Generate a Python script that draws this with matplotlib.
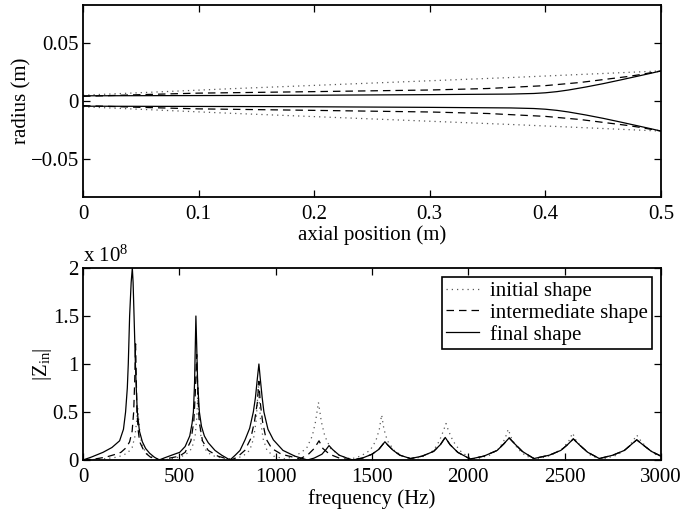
import matplotlib
matplotlib.use("Agg")
import matplotlib.pyplot as plt
import numpy as np

plt.rcParams['font.family'] = ['Liberation Serif', 'DejaVu Serif']
plt.rcParams['mathtext.fontset'] = 'custom'
plt.rcParams['mathtext.rm'] = 'Liberation Serif'
plt.rcParams['mathtext.it'] = 'Liberation Serif:italic'

# ---- Horn profiles (axial position in m, radius in m) ----
x_initial = [0.0, 0.125, 0.25, 0.375, 0.5]
r_initial = [0.005, 0.0105, 0.0155, 0.0205, 0.026]

x_intermediate = [0.0, 0.05, 0.1, 0.2, 0.3, 0.35, 0.4, 0.43, 0.45, 0.47, 0.48, 0.5]
r_intermediate = [0.004, 0.0055, 0.0068, 0.0081, 0.0095, 0.0108, 0.0133, 0.016, 0.0185,
                  0.021, 0.0225, 0.026]

x_final = [0.0, 0.1, 0.2, 0.3, 0.37, 0.39, 0.4, 0.41, 0.42, 0.435, 0.45, 0.465, 0.48, 0.49, 0.5]
r_final = [0.0045, 0.0047, 0.005, 0.0055, 0.006, 0.0065, 0.0071, 0.0081, 0.0095, 0.0121,
           0.015, 0.0182, 0.0215, 0.0237, 0.026]

# ---- Input impedance magnitude (Hz, x 1e8) ----
f_initial = [0, 100, 180, 230, 255, 270, 278, 284, 290, 297, 310, 335, 370, 420,
             480, 530, 565, 582, 591, 597, 603, 612, 630, 665, 720, 780,
             830, 865, 885, 898, 905, 910, 915, 922, 935, 955, 990, 1050,
             1110, 1160, 1190, 1207, 1222, 1237, 1255, 1285, 1330, 1390,
             1440, 1490, 1520, 1538, 1550, 1562, 1580, 1615, 1660, 1710,
             1770, 1820, 1850, 1870, 1884, 1898, 1920, 1955, 2000, 2040,
             2110, 2160, 2190, 2207, 2225, 2255, 2300, 2360,
             2430, 2490, 2522, 2541, 2560, 2595, 2640, 2700,
             2770, 2825, 2855, 2874, 2895, 2930, 2970, 3000]
z_initial = [0, 0.01, 0.03, 0.07, 0.13, 0.25, 0.4, 0.55, 0.4, 0.25, 0.13, 0.06, 0.02, 0.0,
             0.02, 0.05, 0.12, 0.25, 0.45, 0.75, 0.45, 0.25, 0.12, 0.05, 0.02, 0.01,
             0.04, 0.1, 0.22, 0.4, 0.6, 0.8, 0.6, 0.4, 0.22, 0.1, 0.04, 0.01,
             0.05, 0.12, 0.25, 0.4, 0.6, 0.4, 0.25, 0.12, 0.05, 0.01,
             0.04, 0.1, 0.2, 0.32, 0.47, 0.32, 0.2, 0.1, 0.04, 0.01,
             0.04, 0.1, 0.2, 0.3, 0.38, 0.3, 0.2, 0.1, 0.03, 0.01,
             0.05, 0.12, 0.22, 0.32, 0.22, 0.12, 0.04, 0.01,
             0.05, 0.12, 0.2, 0.28, 0.2, 0.12, 0.04, 0.01,
             0.05, 0.12, 0.2, 0.26, 0.2, 0.12, 0.06, 0.04]

f_intermediate = [0, 60, 119, 170, 197, 225, 242, 255, 263, 268, 273, 277, 280, 287, 294,
                  320, 350, 380, 410, 450, 500, 530, 560, 575, 583, 590, 596, 603,
                  620, 650, 700, 770, 800, 840, 870, 890, 905, 913, 920, 932, 950,
                  980, 1030, 1090, 1125, 1170, 1200, 1225, 1245, 1280, 1330, 1395,
                  1450, 1500, 1535, 1555, 1567, 1580, 1610, 1645, 1700,
                  1760, 1820, 1855, 1880, 1905, 1945, 2010,
                  2080, 2150, 2185, 2212, 2240, 2280, 2340,
                  2420, 2480, 2515, 2545, 2575, 2620, 2680,
                  2750, 2810, 2845, 2874, 2905, 2950, 3000]
z_intermediate = [0, 0.01, 0.03, 0.06, 0.08, 0.13, 0.19, 0.3, 0.5, 0.8, 1.21, 0.8, 0.5, 0.3, 0.19,
                  0.08, 0.03, 0.01, 0.0, 0.02, 0.04, 0.08, 0.2, 0.4, 0.7, 1.1, 0.7, 0.4,
                  0.2, 0.1, 0.04, 0.0, 0.03, 0.1, 0.22, 0.4, 0.6, 0.82, 0.6, 0.4, 0.22,
                  0.12, 0.06, 0.03, 0.01, 0.06, 0.12, 0.2, 0.12, 0.06, 0.02, 0.0,
                  0.02, 0.06, 0.11, 0.16, 0.19, 0.16, 0.1, 0.05, 0.015,
                  0.04, 0.09, 0.16, 0.235, 0.16, 0.08, 0.01,
                  0.04, 0.1, 0.17, 0.23, 0.17, 0.09, 0.015,
                  0.05, 0.1, 0.16, 0.22, 0.16, 0.08, 0.015,
                  0.05, 0.1, 0.16, 0.21, 0.16, 0.09, 0.04]

f_final = [0, 43, 104, 150, 190, 210, 221, 230, 235, 242, 250, 256, 260, 265, 272, 277,
           282, 293, 308, 325, 346, 370, 395, 420, 460, 502, 530, 554, 566, 573, 579,
           583, 586, 590, 595, 604, 615, 630, 650, 685, 720, 763, 790, 815, 841,
           865, 884, 895, 905, 913, 920, 930, 939, 960, 988, 1038, 1100, 1165,
           1200, 1240, 1262, 1277, 1295, 1330, 1370, 1400,
           1450, 1500, 1535, 1555, 1567, 1580, 1610, 1645, 1700,
           1760, 1820, 1855, 1880, 1905, 1945, 2010,
           2080, 2150, 2185, 2212, 2240, 2280, 2340,
           2420, 2480, 2515, 2545, 2575, 2620, 2680,
           2750, 2810, 2845, 2874, 2905, 2950, 3000]
z_final = [0, 0.03, 0.08, 0.13, 0.2, 0.32, 0.5, 0.75, 1.0, 1.5, 1.85, 2.0, 1.85, 1.5, 1.0, 0.72,
           0.5, 0.3, 0.19, 0.12, 0.07, 0.03, 0.0, 0.02, 0.05, 0.08, 0.14, 0.25, 0.38, 0.5, 0.8,
           1.2, 1.5, 1.2, 0.8, 0.5, 0.35, 0.25, 0.18, 0.1, 0.05, 0.0, 0.05, 0.1, 0.21,
           0.33, 0.5, 0.65, 0.85, 1.0, 0.85, 0.65, 0.5, 0.32, 0.21, 0.1, 0.04, 0.0,
           0.02, 0.06, 0.11, 0.15, 0.11, 0.05, 0.02, 0.0,
           0.02, 0.06, 0.11, 0.16, 0.19, 0.16, 0.1, 0.05, 0.015,
           0.04, 0.09, 0.16, 0.235, 0.16, 0.08, 0.01,
           0.04, 0.1, 0.17, 0.23, 0.17, 0.09, 0.015,
           0.05, 0.1, 0.16, 0.22, 0.16, 0.08, 0.015,
           0.05, 0.1, 0.16, 0.21, 0.16, 0.09, 0.04]

legend_labels = ['initial shape', 'intermediate shape', 'final shape']

FS = 15
dot_style = (0, (1, 3.2))
dash_style = (0, (6, 4))
lw = 0.9

fig = plt.figure(figsize=(6.82, 5.13), dpi=100)
ax1 = fig.add_axes([83/682, 1-197/513, 578/682, 192/513])
ax2 = fig.add_axes([83/682, 1-460/513, 578/682, 192/513])

# top: horn profiles
for xs, rs, ls, col in [(x_initial, r_initial, dot_style, '0.35'),
                        (x_intermediate, r_intermediate, dash_style, 'black'),
                        (x_final, r_final, '-', 'black')]:
    xs = np.array(xs); rs = np.array(rs)
    ax1.plot(xs, rs, linestyle=ls, color=col, lw=lw)
    ax1.plot(xs, -rs, linestyle=ls, color=col, lw=lw)
ax1.set_xlim(0, 0.5)
ax1.set_ylim(-0.083, 0.083)
ax1.set_xticks([0, 0.1, 0.2, 0.3, 0.4, 0.5])
ax1.set_xticklabels(['0', '0.1', '0.2', '0.3', '0.4', '0.5'])
ax1.set_yticks([-0.05, 0, 0.05])
ax1.set_yticklabels(['\u22120.05', '0', '0.05'])
ax1.set_xlabel('axial position (m)', fontsize=FS, labelpad=1)
ax1.set_ylabel('radius (m)', fontsize=FS, labelpad=-1)

# bottom: impedance
ax2.plot(f_initial, z_initial, linestyle=dot_style, color='0.35', lw=lw, label=legend_labels[0])
ax2.plot(f_intermediate, z_intermediate, linestyle=dash_style, color='black', lw=lw, label=legend_labels[1])
ax2.plot(f_final, z_final, linestyle='-', color='black', lw=lw, label=legend_labels[2])
ax2.set_xlim(0, 3000)
ax2.set_ylim(0, 2)
ax2.set_xticks([0, 500, 1000, 1500, 2000, 2500, 3000])
ax2.set_yticks([0, 0.5, 1, 1.5, 2])
ax2.set_yticklabels(['0', '0.5', '1', '1.5', '2'])
ax2.set_xlabel('frequency (Hz)', fontsize=FS, labelpad=1)
ax2.set_ylabel(r'$|\mathrm{Z}_{\mathrm{in}}|$', fontsize=FS, labelpad=-1)
ax2.text(0.0, 1.005, r'x 10$^{8}$', transform=ax2.transAxes, fontsize=FS,
         ha='left', va='bottom')
leg = ax2.legend(loc='upper right', fontsize=FS, frameon=True, fancybox=False,
                 edgecolor='black', framealpha=1, handlelength=1.6,
                 handletextpad=0.5, labelspacing=0.1, borderpad=0.2,
                 borderaxespad=0.45)
leg.get_frame().set_linewidth(1.2)

for ax in (ax1, ax2):
    ax.tick_params(direction='in', top=True, right=True, length=5, width=0.9,
                   labelsize=FS)
    ax.tick_params(axis='x', pad=6)
    ax.tick_params(axis='y', pad=3)
    for s in ax.spines.values():
        s.set_linewidth(1.3)

fig.savefig('out.png', dpi=100)
